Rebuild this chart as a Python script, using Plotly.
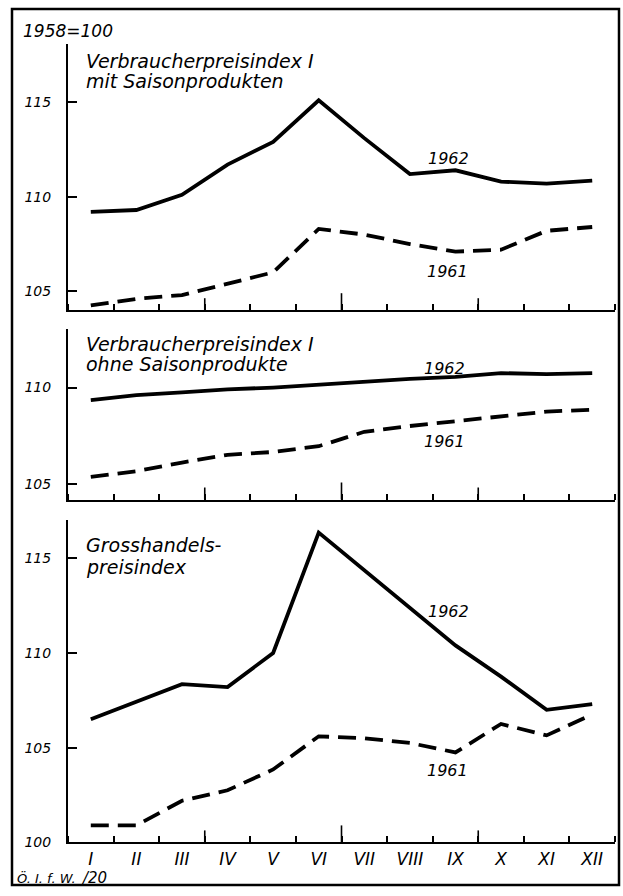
import plotly.graph_objects as go

# Months (roman numerals) and tick boundaries between them
months = ["I", "II", "III", "IV", "V", "VI", "VII", "VIII", "IX", "X", "XI", "XII"]
month_pos = [1, 2, 3, 4, 5, 6, 7, 8, 9, 10, 11, 12]
bounds = [0.5, 1.5, 2.5, 3.5, 4.5, 5.5, 6.5, 7.5, 8.5, 9.5, 10.5, 11.5, 12.5]
quarter_bounds = [3.5, 9.5]
half_bound = [6.5]

# Verbraucherpreisindex I mit Saisonprodukten
vpi_mit_1962 = [109.2, 109.3, 110.1, 111.7, 112.9, 115.1, 113.1, 111.2, 111.4, 110.8, 110.7, 110.85]
vpi_mit_1961 = [104.25, 104.6, 104.8, 105.4, 106.0, 108.3, 108.0, 107.5, 107.1, 107.2, 108.2, 108.4]

# Verbraucherpreisindex I ohne Saisonprodukte
vpi_ohne_1962 = [109.35, 109.6, 109.75, 109.9, 110.0, 110.15, 110.3, 110.45, 110.55, 110.75, 110.7, 110.75]
vpi_ohne_1961 = [105.35, 105.65, 106.1, 106.5, 106.65, 106.95, 107.7, 108.0, 108.25, 108.5, 108.75, 108.85]

# Grosshandelspreisindex
gh_1962 = [106.5, 107.4, 108.35, 108.2, 110.0, 116.35, 114.35, 112.4, 110.4, 108.75, 107.0, 107.3]
gh_1961 = [100.9, 100.9, 102.2, 102.75, 103.85, 105.6, 105.5, 105.25, 104.75, 106.25, 105.65, 106.75]

W, H = 623, 896
FONT = "DejaVu Sans"
INK = "black"


def px(x):
    return x / W


def py(y):
    return 1 - y / H


def tfont(size):
    return dict(family=FONT, size=size, color=INK, style="italic")


panels = [
    dict(title=["Verbraucherpreisindex I", "mit Saisonprodukten"], title_y=[62, 82],
         s62=vpi_mit_1962, s61=vpi_mit_1961, yr=[104.0, 118.1], yt=[105, 110, 115],
         top=44, bot=313, l62=(8.84, 112.0), l61=(8.82, 106.05)),
    dict(title=["Verbraucherpreisindex I", "ohne Saisonprodukte"], title_y=[347, 367],
         s62=vpi_ohne_1962, s61=vpi_ohne_1961, yr=[104.18, 113.04], yt=[105, 110],
         top=332, bot=504, l62=(8.77, 110.98), l61=(8.75, 107.22)),
    dict(title=["Grosshandels-", "preisindex"], title_y=[550, 572],
         s62=gh_1962, s61=gh_1961, yr=[100, 117], yt=[100, 105, 110, 115],
         top=525, bot=850, l62=(8.84, 112.2), l61=(8.82, 103.8)),
]

fig = go.Figure()
layout = dict(
    width=W, height=H,
    margin=dict(l=0, r=0, t=0, b=0),
    paper_bgcolor="white", plot_bgcolor="white",
    showlegend=False,
    font=tfont(14),
)
annotations = []
shapes = []

for i, p in enumerate(panels, start=1):
    xa = "x" if i == 1 else f"x{i}"
    ya = "y" if i == 1 else f"y{i}"
    fig.add_trace(go.Scatter(x=month_pos, y=p["s62"], mode="lines", xaxis=xa, yaxis=ya,
                             line=dict(color=INK, width=3.8)))
    fig.add_trace(go.Scatter(x=month_pos, y=p["s61"], mode="lines", xaxis=xa, yaxis=ya,
                             line=dict(color=INK, width=3.8, dash="18px,9px")))

    layout[f"xaxis{'' if i == 1 else i}"] = dict(
        domain=[px(68), px(615)], range=[0.5, 12.5], anchor=ya,
        showline=True, linecolor=INK, linewidth=2,
        tickmode="array", tickvals=month_pos, ticktext=months,
        ticks="", showticklabels=(i == 3), tickfont=tfont(17),
        showgrid=False, zeroline=False, fixedrange=True,
        minor=dict(tickmode="array", tickvals=bounds, ticks="inside",
                   ticklen=6, tickwidth=1.6, tickcolor=INK, showgrid=False),
    )
    layout[f"yaxis{'' if i == 1 else i}"] = dict(
        domain=[py(p["bot"]), py(p["top"])], range=p["yr"], anchor=xa,
        showline=True, linecolor=INK, linewidth=2,
        tickmode="array", tickvals=p["yt"], ticks="inside", ticklen=9,
        tickwidth=1.6, tickcolor=INK, tickfont=tfont(14), ticklabelstandoff=12,
        showgrid=False, zeroline=False, fixedrange=True,
    )

    # longer quarter / half-year ticks
    for b in quarter_bounds + half_bound:
        shapes.append(dict(type="line", xref=xa, yref=f"{ya} domain",
                           ysizemode="pixel", yanchor=0,
                           x0=b, x1=b, y0=0, y1=17 if b in half_bound else 12,
                           line=dict(color=INK, width=1.6)))

    for line_txt, ty in zip(p["title"], p["title_y"]):
        annotations.append(dict(text=line_txt, x=px(84), y=py(ty), xref="paper", yref="paper",
                                xanchor="left", yanchor="middle", showarrow=False,
                                font=tfont(19)))
    annotations.append(dict(text="1962", x=p["l62"][0], y=p["l62"][1], xref=xa, yref=ya,
                            showarrow=False, font=tfont(16)))
    annotations.append(dict(text="1961", x=p["l61"][0], y=p["l61"][1], xref=xa, yref=ya,
                            showarrow=False, font=tfont(16)))

annotations.append(dict(text="1958=100", x=px(21), y=py(31), xref="paper", yref="paper",
                        xanchor="left", yanchor="middle", showarrow=False, font=tfont(17)))
annotations.append(dict(text="Ö. I. f. W.", x=px(15), y=py(886), xref="paper", yref="paper",
                        xanchor="left", yanchor="middle", showarrow=False, font=tfont(13)))
annotations.append(dict(text="/20", x=px(79), y=py(886), xref="paper", yref="paper",
                        xanchor="left", yanchor="middle", showarrow=False, font=tfont(15)))

# outer frame
shapes.append(dict(type="rect", xref="paper", yref="paper",
                   x0=px(12), x1=px(619), y0=py(893), y1=py(9),
                   line=dict(color=INK, width=2.5)))

layout["annotations"] = annotations
layout["shapes"] = shapes
fig.update_layout(**layout)

# drop the browser's default body margin so the figure fills the window exactly
page_fix = ("document.documentElement.style.overflow = 'hidden';"
            "document.body.style.margin = '0';"
            "document.body.style.overflow = 'hidden';")
fig.write_html("out.html", config={"displayModeBar": False}, post_script=page_fix)
